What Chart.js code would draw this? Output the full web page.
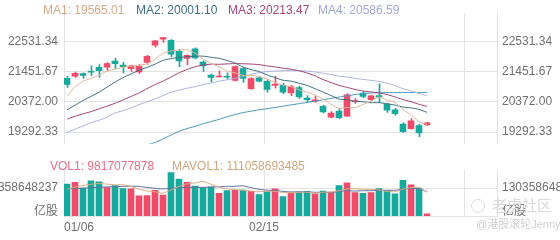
<!DOCTYPE html>
<html><head><meta charset="utf-8">
<script src="https://cdn.jsdelivr.net/npm/chart.js@4.4.1/dist/chart.umd.min.js"></script>
<style>
html,body{margin:0;padding:0;background:#fff;}
#wrap{position:relative;width:560px;height:240px;overflow:hidden;font-family:"Liberation Sans",Arial,"Noto Sans CJK SC",sans-serif;}
canvas{position:absolute;left:0;}
#c1{top:0}
#c2{top:157px}
.lg{position:absolute;font-size:12px;line-height:14px;white-space:nowrap;}
.wm{position:absolute;white-space:nowrap;color:#dadada;}
#logo{position:absolute;left:471px;top:199px;width:12px;height:12px;border:1.5px solid #dcdcdc;border-radius:50%;}
</style></head><body>
<div id="wrap">
<canvas id="c1" width="560" height="157"></canvas>
<canvas id="c2" width="560" height="83"></canvas>
<div class="lg" style="left:43px;top:3px;color:#d9a887">MA1: 19565.01</div>
<div class="lg" style="left:136px;top:3px;color:#3e7189">MA2: 20001.10</div>
<div class="lg" style="left:228px;top:3px;color:#a8467d">MA3: 20213.47</div>
<div class="lg" style="left:318px;top:3px;color:#9ea8da">MA4: 20586.59</div>
<div class="lg" style="left:50px;top:159px;color:#ec6e84">VOL1: 9817077878</div>
<div class="lg" style="left:172px;top:159px;color:#cfa77f">MAVOL1: 111058693485</div>
<div id="logo"></div>
<div class="wm" style="left:492px;top:197px;font-size:15px;line-height:18px;">老虎社区</div>
<div class="wm" style="left:476px;top:218px;font-size:11px;line-height:13px;color:#d0d0d0;">@港股滚轮Jenny</div>
</div>
<script>
// ---- categories / ticks ----
const xTickIdx = [0, 25, 50];
const xTickLabels = ['01/06', '02/15', ''];
const priceTicks = [19292.33, 20372.00, 21451.67, 22531.34];
const volTicks = [130358648237];
const volUnitLabel = '亿股';
const volUnitTick = 21.7e9;

// ---- candles ----
const opens  = [21215,21292,21381,21461,21610,21610,21827,21690,21560,21441,21779,22404,22611,22571,22184,21928,22273,21797,21334,21262,21283,21143,21560,20847,21232,21105,20966,20966,20698,20888,20511,20401,20213,19827,20044,19866,20382,20689,20451,20600,20293,20094,19580,19420,19530,19550];
const highs  = [21283,21441,21411,21660,21708,21779,21928,21788,21690,21708,22035,22571,22680,22601,22255,22056,22303,21839,21363,21482,21411,21660,21610,21245,21262,21164,21283,21036,20966,20936,20600,20590,20252,20025,20144,20669,20490,20739,20620,21016,20323,20144,19628,19776,19580,19649];
const lows   = [20888,21245,21215,21313,21245,21482,21560,21411,21461,21381,21708,22332,22502,21976,21631,21690,21907,21461,21084,21262,21185,21113,21066,20817,21084,20718,20867,20668,20600,20501,20353,20353,19976,19797,19777,19856,20323,20520,20421,20353,19995,19896,19282,19402,19134,19530];
const closes = [20995,21393,21322,21431,21491,21738,21738,21631,21660,21640,22005,22551,22671,22076,21839,22035,21946,21660,21245,21272,21253,21631,21215,21203,21113,20817,21006,20719,20917,20549,20451,20451,20015,19976,19807,20629,20421,20570,20590,20540,20075,19955,19312,19699,19263,19629];

// ---- moving average lines ----
const ma1 = [20570,20918,21114,21215,21326,21475,21544,21606,21652,21681,21735,21897,22105,22189,22228,22234,22113,21911,21745,21632,21475,21412,21323,21315,21283,21196,21071,20972,20914,20802,20728,20617,20477,20288,20140,20176,20170,20281,20403,20550,20439,20346,20094,19916,19661,19565];
const ma2 = [20094,20252,20421,20570,20718,20900,21080,21240,21370,21504,21605,21721,21856,21920,21955,21985,22005,22008,21967,21930,21855,21763,21617,21530,21457,21336,21242,21147,21115,21042,20962,20844,20724,20601,20471,20452,20394,20379,20346,20345,20307,20258,20188,20160,20105,20001];
const ma3 = [19758,19856,19946,20025,20124,20222,20323,20442,20570,20689,20847,20990,21114,21262,21411,21530,21630,21690,21720,21717,21730,21742,21736,21725,21706,21660,21623,21578,21541,21486,21408,21303,21171,21066,20964,20894,20818,20763,20730,20694,20635,20551,20456,20381,20288,20213];
const ma4 = [19283,19400,19510,19628,19720,19830,19976,20060,20160,20273,20380,20480,20600,20718,20790,20860,20917,20990,21050,21114,21160,21215,21290,21360,21420,21455,21475,21490,21495,21492,21474,21443,21399,21350,21294,21257,21213,21178,21142,21106,21041,20955,20843,20764,20678,20587];
const ma5 = [null,null,null,null,null,null,null,null,null,null,18840,18920,19050,19190,19320,19420,19500,19590,19670,19750,19840,19920,19990,20040,20090,20130,20170,20220,20265,20310,20355,20400,20450,20500,20545,20590,20635,20668,20690,20700,20705,20706,20708,20708,20709,20710];

// ---- volume ----
const volumes = [148.5e9,156.8e9,130.4e9,164.0e9,159.3e9,132.9e9,142.3e9,127.8e9,126.7e9,94.1e9,95.2e9,119.5e9,97.8e9,202.8e9,172.7e9,156.8e9,140.1e9,132.9e9,136.5e9,106.1e9,118.4e9,120.6e9,120.6e9,114.8e9,100.3e9,114.8e9,126.7e9,90.5e9,108.6e9,112.3e9,114.8e9,103.9e9,115.9e9,111.2e9,142.3e9,154.6e9,109.7e9,106.1e9,109.7e9,127.8e9,118.4e9,103.9e9,166.6e9,144.8e9,130.4e9,9817077878];
const mavol1 = [124e9,135e9,142e9,148e9,151.8e9,148.7e9,145.8e9,145.3e9,137.8e9,124.8e9,117.2e9,112.7e9,106.7e9,121.9e9,137.6e9,149.9e9,154.0e9,161.1e9,147.8e9,134.5e9,126.8e9,122.9e9,120.4e9,116.1e9,114.9e9,114.2e9,115.4e9,109.4e9,108.2e9,110.6e9,110.6e9,106.0e9,111.1e9,111.6e9,117.6e9,125.6e9,126.7e9,124.8e9,124.5e9,121.6e9,114.3e9,113.2e9,125.3e9,132.3e9,132.8e9,111058693485];
const mavol2 = [127e9,128e9,130e9,132e9,134e9,136e9,137e9,138e9,139e9,138.3e9,133.0e9,129.2e9,126.0e9,129.8e9,131.2e9,133.6e9,133.4e9,133.9e9,134.8e9,136.0e9,138.4e9,138.5e9,140.8e9,132.0e9,124.7e9,120.5e9,119.2e9,114.9e9,112.1e9,112.8e9,112.4e9,110.7e9,110.3e9,109.9e9,114.1e9,118.1e9,116.4e9,117.9e9,118.0e9,119.6e9,120.0e9,120.0e9,125.0e9,128.4e9,127.2e9,112.7e9];

// ---- styling / layout ----
const RED = '#ef4c6a', TEAL = '#17a99c';
const GRID = '#e3e3e3', TICK = '#707070';
const maColors = ['#e3b697', '#3f7085', '#a24477', '#a9b2e0', '#4a98b8'];
const mavolColors = ['#d8ad85', '#66709e'];
const priceMin = 18876.3, priceMax = 23541.7;
const volMax = 213.6e9;
const xMax = 54.125;
const bodyX = i => i + 0.375;
const wickX = i => i + 0.4375;

Chart.defaults.font.family = '"Liberation Sans", Arial, "Noto Sans CJK SC", sans-serif';
Chart.defaults.font.size = 12;

const candleColor = opens.map((o, i) => closes[i] >= o ? RED : TEAL);
const setTicks = arr => s => { s.ticks = arr.map(v => ({value: v})); };

const baseOpts = {
  responsive: false, animation: false, events: [],
  layout: {padding: 0, autoPadding: false},
  plugins: {legend: {display: false}, tooltip: {enabled: false}}
};

// Price panel
new Chart(document.getElementById('c1'), {
  type: 'bar',
  data: {datasets: [
    ...[ma1, ma2, ma3, ma4, ma5].map((arr, k) => ({
      type: 'line', order: 0,
      data: arr.map((v, i) => ({x: bodyX(i), y: v})),
      borderColor: maColors[k], borderWidth: 1, pointRadius: 0, tension: 0.2
    })),
    {type: 'bar', order: 1, grouped: false, barThickness: 6, minBarLength: 1,
     data: opens.map((o, i) => ({x: bodyX(i), y: [o, closes[i]]})),
     backgroundColor: candleColor},
    {type: 'bar', order: 2, grouped: false, barThickness: 1,
     data: lows.map((l, i) => ({x: wickX(i), y: [l, highs[i]]})),
     backgroundColor: candleColor}
  ]},
  options: Object.assign({}, baseOpts, {
    scales: {
      x: {type: 'linear', min: 0, max: xMax, offset: false,
          grid: {offset: false, color: GRID, drawTicks: false},
          border: {display: false}, ticks: {display: false},
          afterBuildTicks: setTicks(xTickIdx), afterFit: s => { s.height = 0; }},
      y: {type: 'linear', position: 'left', min: priceMin, max: priceMax,
          grid: {color: GRID, drawTicks: false}, border: {display: true, color: GRID},
          ticks: {padding: 6, color: TICK, callback: v => v.toFixed(2)},
          afterBuildTicks: setTicks(priceTicks), afterFit: s => { s.width = 64; }},
      yR: {type: 'linear', position: 'right', min: priceMin, max: priceMax,
          grid: {drawOnChartArea: false, drawTicks: false}, border: {display: true, color: GRID},
          ticks: {padding: 5, color: TICK, callback: v => v.toFixed(2)},
          afterBuildTicks: setTicks(priceTicks), afterFit: s => { s.width = 63; }}
    }
  })
});

// Volume panel
const volTickList = [volUnitTick, ...volTicks];
const volLabel = v => v === volUnitTick ? volUnitLabel : String(v);
new Chart(document.getElementById('c2'), {
  type: 'bar',
  data: {datasets: [
    ...[mavol1, mavol2].map((arr, k) => ({
      type: 'line', order: 0,
      data: arr.map((v, i) => ({x: bodyX(i), y: v})),
      borderColor: mavolColors[k], borderWidth: 1, pointRadius: 0, tension: 0.2
    })),
    {type: 'bar', order: 1, grouped: false, barThickness: 6,
     data: volumes.map((v, i) => ({x: bodyX(i), y: v})),
     backgroundColor: candleColor}
  ]},
  options: Object.assign({}, baseOpts, {
    scales: {
      x: {type: 'linear', min: 0, max: xMax, offset: false,
          grid: {offset: false, color: GRID, drawTicks: false},
          border: {display: true, color: GRID},
          ticks: {padding: 4, align: 'inner', autoSkip: false, maxRotation: 0, color: TICK,
                  callback: (v, idx) => xTickLabels[idx]},
          afterBuildTicks: setTicks(xTickIdx), afterFit: s => { s.height = 24; }},
      y: {type: 'linear', position: 'left', min: 0, max: volMax,
          grid: {color: ctx => (ctx.tick && ctx.tick.value === volUnitTick) ? 'rgba(0,0,0,0)' : GRID, drawTicks: false},
          border: {display: true, color: GRID},
          ticks: {padding: 6, color: TICK, callback: volLabel},
          afterBuildTicks: setTicks(volTickList), afterFit: s => { s.width = 64; }},
      yR: {type: 'linear', position: 'right', min: 0, max: volMax,
          grid: {drawOnChartArea: false, drawTicks: false}, border: {display: true, color: GRID},
          ticks: {padding: 5, color: TICK, callback: volLabel},
          afterBuildTicks: setTicks(volTickList), afterFit: s => { s.width = 63; }}
    }
  })
});
</script>
</body></html>
